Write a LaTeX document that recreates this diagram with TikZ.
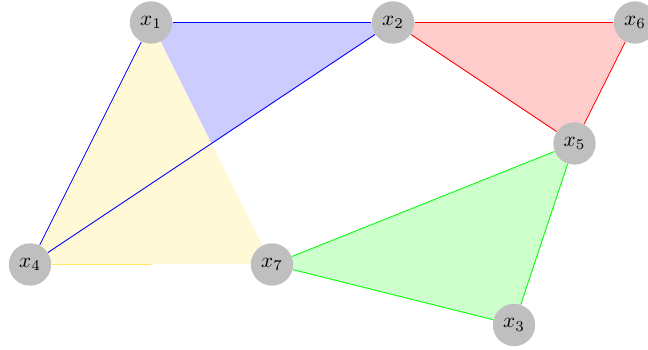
\documentclass[tikz,border=0pt]{standalone}
\usepackage{amsmath,amssymb}
\usepackage{xcolor}
\usetikzlibrary{calc,positioning,backgrounds}
\definecolor{ylw}{RGB}{255,232,95}

\begin{document}
\begin{tikzpicture}[
  vertex/.style={circle, fill=gray!50, minimum size=7mm, inner sep=0pt},
  bface/.style={fill=blue!20},
  rface/.style={fill=red!20},
  gface/.style={fill=green!20},
  yface/.style={fill=ylw!25},
]
  \useasboundingbox (-0.496,-0.413) rectangle (10.215,5.372);

  % Vertices
  \node[vertex] (x1) at (2, 5) {$x_1$};
  \node[vertex] (x2) at (6, 5) {$x_2$};
  \node[vertex] (x6) at (10, 5) {$x_6$};
  \node[vertex] (x5) at (9, 3) {$x_5$};
  \node[vertex] (x4) at (0, 1) {$x_4$};
  \node[vertex] (x7) at (4, 1) {$x_7$};
  \node[vertex] (x3) at (8, 0) {$x_3$};
  \coordinate (m47) at ($(x4)!0.5!(x7)$);

  % Faces
  \begin{scope}[on background layer]
    \fill[bface] (x1.center) -- (x2.center) -- (x4.center) -- cycle;
    \fill[rface] (x2.center) -- (x6.center) -- (x5.center) -- cycle;
    \fill[gface] (x5.center) -- (x7.center) -- (x3.center) -- cycle;
    \fill[yface] (x1.center) -- (x4.center) -- (x7.center) -- cycle;
  \end{scope}

  % Blue edges
  \draw[blue] (x1) -- (x2);
  \draw[blue] (x2) -- (x4);
  \draw[blue] (x1) -- (x4);

  % Red edges
  \draw[red] (x2) -- (x6);
  \draw[red] (x6) -- (x5);
  \draw[red] (x2) -- (x5);

  % Green edges
  \draw[green] (x7) -- (x5);
  \draw[green] (x5) -- (x3);
  \draw[green] (x3) -- (x7);

  % Yellow edge
  \draw[ylw] (x4) -- (m47);
\end{tikzpicture}
\end{document}
